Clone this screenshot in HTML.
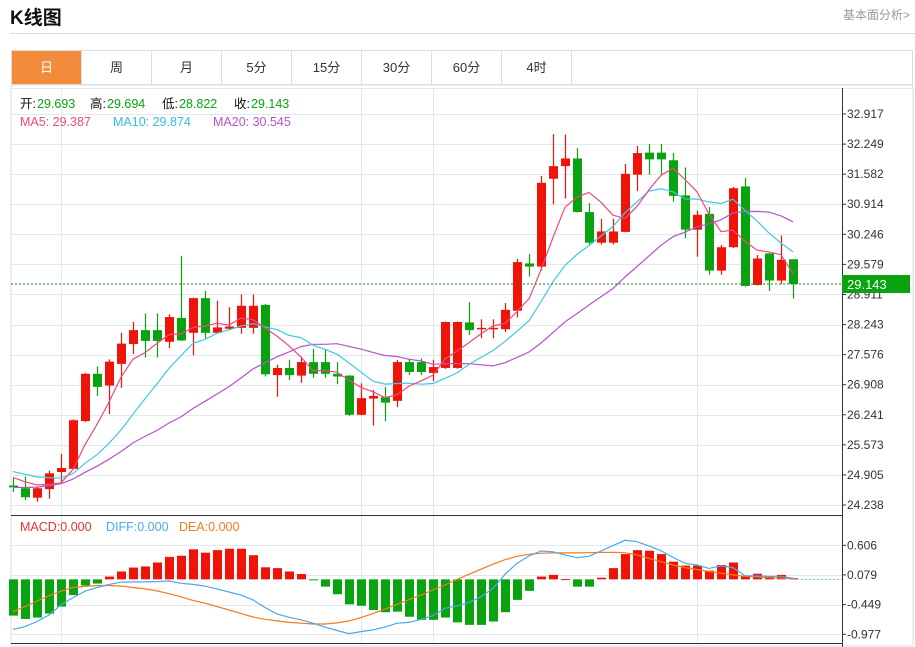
<!DOCTYPE html>
<html><head><meta charset="utf-8">
<style>
body{margin:0;width:915px;height:647px;background:#fff;font-family:"Liberation Sans","Noto Sans CJK SC",sans-serif;overflow:hidden;position:relative}
.title{position:absolute;left:10px;top:3px;font-size:19px;font-weight:bold;color:#111}
.link{position:absolute;left:843px;top:6px;font-size:12px;color:#999}
.hr{position:absolute;left:10px;top:33px;width:905px;height:1px;background:#d8d8d8}
.tabs{position:absolute;left:11px;top:50px;width:902px;height:35px;border:1px solid #ddd;box-sizing:border-box;display:flex}
.tab{width:70px;height:33px;border-right:1px solid #ddd;text-align:center;line-height:33px;font-size:13px;color:#333;box-sizing:border-box}
.tab.on{background:#f28c3c;color:#fff}
svg{position:absolute;left:0;top:0}
</style></head><body>
<div class="title">K线图</div>
<div class="link">基本面分析&gt;</div>
<div class="hr"></div>
<div class="tabs">
<div class="tab on">日</div>
<div class="tab">周</div>
<div class="tab">月</div>
<div class="tab">5分</div>
<div class="tab">15分</div>
<div class="tab">30分</div>
<div class="tab">60分</div>
<div class="tab">4时</div>
</div>
<svg id="chart" width="915" height="647"></svg>
<script>
const opens=[24.67,24.61,24.40,24.59,24.97,25.04,26.10,27.15,26.89,27.37,27.81,28.12,28.12,27.86,28.39,28.06,28.83,28.06,28.15,28.17,28.17,28.68,27.12,27.28,27.11,27.41,27.41,27.15,27.11,26.24,26.60,26.63,26.55,27.41,27.41,27.17,27.28,27.28,28.29,28.14,28.14,28.14,28.55,29.60,29.53,31.48,31.76,31.93,30.74,30.06,30.06,30.30,31.57,32.06,32.06,31.89,31.11,30.35,30.70,29.44,29.96,31.31,29.12,29.82,29.22,29.693];
const closes=[24.63,24.41,24.61,24.94,25.06,26.12,27.15,26.86,27.42,27.82,28.12,27.88,27.88,28.41,27.89,28.83,28.06,28.18,28.20,28.66,28.66,27.14,27.28,27.12,27.41,27.15,27.15,27.09,26.24,26.61,26.66,26.51,27.41,27.19,27.19,27.30,28.30,28.30,28.12,28.17,28.17,28.57,29.63,29.53,31.39,31.76,31.93,30.74,30.06,30.31,30.31,31.59,32.05,31.91,31.91,31.10,30.35,30.68,29.44,29.96,31.27,29.10,29.71,29.22,29.68,29.143];
const highs=[24.84,24.87,24.64,25.00,25.37,26.14,27.17,27.31,27.47,28.06,28.30,28.49,28.49,28.47,29.77,28.84,28.99,28.77,28.63,28.91,28.91,28.70,27.35,27.46,27.53,27.70,27.70,27.41,27.12,26.94,26.79,26.86,27.46,27.49,27.49,27.46,28.31,28.31,28.74,28.36,28.36,28.72,29.70,29.81,31.54,32.47,32.46,32.16,30.94,30.59,30.59,31.81,32.21,32.25,32.25,32.05,31.73,30.77,30.85,30.01,31.30,31.50,29.79,29.83,30.22,29.694];
const lows=[24.53,24.35,24.31,24.38,24.74,25.03,26.08,26.66,26.26,26.84,27.59,27.51,27.51,27.72,27.88,27.56,27.94,28.05,28.11,28.04,28.04,27.09,26.64,27.01,26.95,27.06,27.06,26.92,26.22,26.23,26.00,26.10,26.41,27.12,27.12,26.99,27.26,27.26,28.01,27.94,27.94,28.08,28.40,29.31,29.44,30.91,31.04,30.73,30.02,30.02,30.02,30.29,31.21,31.57,31.57,30.97,30.16,29.75,29.35,29.35,29.94,29.09,29.11,28.99,29.14,28.822];
const priorCloses=[24.5,24.4,24.3,24.2,24.1,24.1,24.2,24.3,24.4,24.3,25.0,25.2,25.1,25.2,25.05,24.9,24.95,24.9,24.87];
const macdHist=[-0.645,-0.705,-0.68,-0.61,-0.485,-0.28,-0.11,-0.075,0.05,0.14,0.21,0.23,0.30,0.40,0.42,0.535,0.475,0.52,0.545,0.545,0.43,0.215,0.20,0.14,0.095,-0.01,-0.13,-0.265,-0.445,-0.47,-0.545,-0.585,-0.575,-0.665,-0.72,-0.72,-0.68,-0.765,-0.81,-0.81,-0.75,-0.585,-0.365,-0.205,0.05,0.08,0.005,-0.13,-0.13,0.03,0.20,0.45,0.52,0.51,0.45,0.315,0.245,0.245,0.155,0.255,0.30,0.05,0.10,0.055,0.08,0.02];
const diffLine=[-0.89,-0.84,-0.75,-0.635,-0.455,-0.325,-0.21,-0.145,-0.09,-0.05,-0.045,-0.045,-0.04,-0.03,-0.07,-0.09,-0.12,-0.17,-0.225,-0.28,-0.365,-0.50,-0.615,-0.675,-0.72,-0.78,-0.85,-0.91,-0.965,-0.93,-0.90,-0.85,-0.78,-0.765,-0.71,-0.645,-0.515,-0.47,-0.41,-0.31,-0.16,0.09,0.285,0.415,0.505,0.49,0.435,0.385,0.41,0.505,0.60,0.695,0.67,0.595,0.51,0.39,0.285,0.255,0.195,0.24,0.21,0.065,0.06,0.055,0.055,0.02];
const deaLine=[-0.575,-0.485,-0.385,-0.29,-0.21,-0.145,-0.125,-0.11,-0.11,-0.12,-0.145,-0.17,-0.205,-0.255,-0.31,-0.375,-0.425,-0.485,-0.545,-0.61,-0.67,-0.71,-0.74,-0.765,-0.78,-0.795,-0.795,-0.775,-0.74,-0.68,-0.61,-0.525,-0.445,-0.36,-0.28,-0.19,-0.10,0,0.09,0.18,0.27,0.35,0.41,0.445,0.465,0.47,0.47,0.47,0.475,0.48,0.48,0.475,0.435,0.375,0.315,0.255,0.21,0.175,0.14,0.11,0.08,0.055,0.045,0.03,0.02,0.01];
const priceTicks=["32.917","32.249","31.582","30.914","30.246","29.579","28.911","28.243","27.576","26.908","26.241","25.573","24.905","24.238"];
const macdTicks=["0.606","0.079","-0.449","-0.977"];

const NS="http://www.w3.org/2000/svg";
const svg=document.getElementById('chart');
function mk(tag,attrs,parent){const e=document.createElementNS(NS,tag);for(const k in attrs)e.setAttribute(k,attrs[k]);(parent||svg).appendChild(e);return e;}
const X0=13,DX=12,AXIS=842;
const xOf=i=>X0+DX*i;
const yP=p=>114+(32.917-p)*45.05;
const yM=v=>545.3+(0.606-v)*56.2;
const RED="#f01408",GREEN="#09a30f";

// frame
let g=mk('g',{});


mk('rect',{x:11,y:85,width:902,height:561,fill:'none',stroke:'#ddd'},g);
// grids
const grid=mk('g',{stroke:'#e3e8ee','stroke-width':1});


priceTicks.forEach(t=>{const y=Math.round(yP(parseFloat(t)))+0.5;mk('line',{x1:11,x2:AXIS,y1:y,y2:y},grid);});
macdTicks.forEach(t=>{const y=Math.round(yM(parseFloat(t)))+0.5;mk('line',{x1:11,x2:AXIS,y1:y,y2:y},grid);});
[61.5,361.5,433.5,697.5].forEach(x=>{mk('line',{x1:x,x2:x,y1:88,y2:643},grid);});
mk('line',{x1:11,x2:913,y1:88.5,y2:88.5,stroke:'#e3e8ee'});
mk('line',{x1:11,x2:AXIS,y1:515.5,y2:515.5,stroke:'#333'});
mk('line',{x1:AXIS+0.5,x2:AXIS+0.5,y1:88,y2:647,stroke:'#333'});
mk('line',{x1:11,x2:AXIS,y1:643.5,y2:643.5,stroke:'#333'});
// axis labels
const ax=mk('g',{'font-size':12,fill:'#333','font-family':'Liberation Sans, sans-serif'});


priceTicks.forEach(t=>{const y=yP(parseFloat(t));mk('line',{x1:AXIS,x2:AXIS+4,y1:y,y2:y,stroke:'#333'},ax);const tx=mk('text',{x:847,y:y+4},ax);tx.textContent=t;});
const mx=mk('g',{'font-size':12,fill:'#333'});


macdTicks.forEach(t=>{const y=yM(parseFloat(t));mk('line',{x1:AXIS,x2:AXIS+4,y1:y,y2:y,stroke:'#333'},mx);const tx=mk('text',{x:847,y:y+4},mx);tx.textContent=t;});

// candles
const cg=mk('g',{});


opens.forEach((o,i)=>{
  const c=closes[i],x=xOf(i),col=c>=o?RED:GREEN;
  const w=mk('line',{x1:x+0.5,x2:x+0.5,y1:yP(highs[i]),y2:yP(lows[i]),stroke:col,'stroke-width':1.2},cg);
  const top=yP(Math.max(o,c)),h=Math.max(1.5,yP(Math.min(o,c))-top);
  const r=mk('rect',{x:x-4,y:top,width:9,height:h,fill:col},cg);
  
  
});
// MAs
const all=priorCloses.concat(closes);
function ma(n){return closes.map((_,i)=>{let s=0;for(let k=0;k<n;k++)s+=all[i+priorCloses.length-k];return s/n;});}
function line(vals,yf,col,name){
  const d=vals.map((v,i)=>(i?'L':'M')+xOf(i).toFixed(1)+','+yf(v).toFixed(1)).join('');
  const p=mk('path',{d:d,fill:'none',stroke:col,'stroke-width':1.2});
  
  
}
line(ma(20),yP,'#b454c8','ma20-line');
line(ma(10),yP,'#40c8e0','ma10-line');
line(ma(5),yP,'#f04880','ma5-line');
// last price line
const lp=closes[closes.length-1],ly=yP(lp);
const dl=mk('line',{x1:11,x2:AXIS,y1:ly,y2:ly,stroke:'#1a8a1a','stroke-dasharray':'2,2'});


const lb=mk('rect',{x:842,y:ly-9,width:68,height:18,fill:GREEN});


const lt=mk('text',{x:847,y:ly+5,fill:'#fff','font-size':13});lt.textContent=lp.toFixed(3);

// MACD
const mg=mk('g',{});


macdHist.forEach((v,i)=>{
  const y0=yM(0),y1=yM(v);
  const r=mk('rect',{x:xOf(i)-4,y:Math.min(y0,y1),width:9,height:Math.max(1,Math.abs(y1-y0)),fill:v>=0?RED:GREEN},mg);
  
  
});
line(deaLine,yM,'#f57a1a','dea-line');
line(diffLine,yM,'#4aa8ec','diff-line');
const zl=mk('line',{x1:xOf(macdHist.length-1),x2:AXIS,y1:yM(0),y2:yM(0),stroke:'#6cc0f0','stroke-dasharray':'2,2'});



// legends
function txt(x,y,s,col,name){const t=mk('text',{x:x,y:y,fill:col,'font-size':12.5});t.textContent=s;return t;}
txt(20,108,'开:','#111','open-label');txt(37,108,'29.693',GREEN,'open-value');
txt(90,108,'高:','#111','high-label');txt(107,108,'29.694',GREEN,'high-value');
txt(162,108,'低:','#111','low-label');txt(179,108,'28.822',GREEN,'low-value');
txt(234,108,'收:','#111','close-label');txt(251,108,'29.143',GREEN,'close-value');
txt(20,126,'MA5: 29.387','#f04880','ma5-legend');
txt(113,126,'MA10: 29.874','#30c0dc','ma10-legend');
txt(213,126,'MA20: 30.545','#b454c8','ma20-legend');
txt(20,531,'MACD:0.000','#f03030','macd-legend');
txt(106,531,'DIFF:0.000','#4aa8ec','diff-legend');
txt(179,531,'DEA:0.000','#f57a1a','dea-legend');
</script>
</body></html>
